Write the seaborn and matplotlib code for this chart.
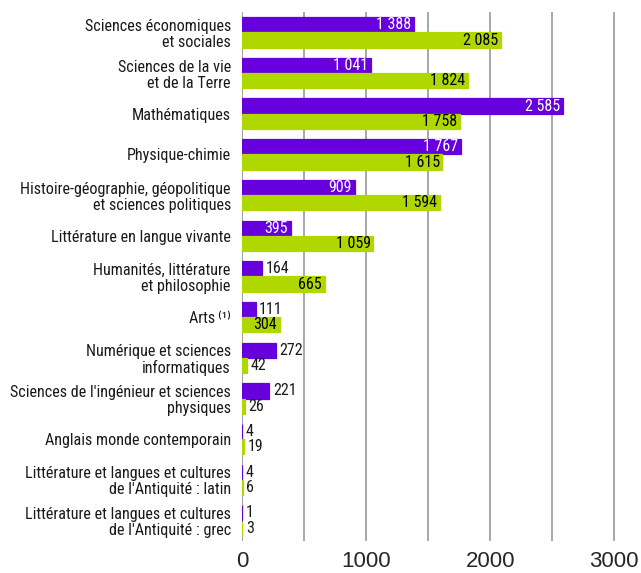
import matplotlib
matplotlib.use("Agg")
import matplotlib.pyplot as plt
import seaborn as sns
import pandas as pd

# Spécialités (de haut en bas)
categories = [
    "Sciences économiques\net sociales",
    "Sciences de la vie\net de la Terre",
    "Mathématiques",
    "Physique-chimie",
    "Histoire-géographie, géopolitique\net sciences politiques",
    "Littérature en langue vivante",
    "Humanités, littérature\net philosophie",
    "Arts\u2009⁽¹⁾",
    "Numérique et sciences\ninformatiques",
    "Sciences de l'ingénieur et sciences\nphysiques",
    "Anglais monde contemporain",
    "Littérature et langues et cultures\nde l'Antiquité : latin",
    "Littérature et langues et cultures\nde l'Antiquité : grec",
]
serie_violet = [1388, 1041, 2585, 1767, 909, 395, 164, 111, 272, 221, 4, 4, 1]
serie_vert = [2085, 1824, 1758, 1615, 1594, 1059, 665, 304, 42, 26, 19, 6, 3]
series = ["serie_violet", "serie_vert"]
colors = ["#6600dd", "#b0d800"]
x_ticks = [0, 1000, 2000, 3000]

df = pd.DataFrame({
    "categorie": categories * 2,
    "serie": [series[0]] * len(categories) + [series[1]] * len(categories),
    "valeur": serie_violet + serie_vert,
})

sns.set_theme(style="white")
plt.rcParams["font.family"] = ["Roboto Condensed", "Archivo Narrow", "PT Sans Narrow", "DejaVu Sans"]

fig = plt.figure(figsize=(6.41, 5.73), dpi=100)
ax = fig.add_axes([0.3775, 0.056, 0.6215, 0.923])

sns.barplot(data=df, y="categorie", x="valeur", hue="serie", hue_order=series,
            palette=colors, orient="h", width=0.75, saturation=1, legend=False,
            ax=ax, zorder=3)
for container, c in zip(ax.containers, colors):
    for bar in container:
        bar.set_edgecolor(c)
        bar.set_linewidth(0.9)

ax.set_xlim(0, 3210)
ax.set_xticks(x_ticks)
ax.set_xticks(range(500, 3001, 1000), minor=True)
ax.set_xticklabels([str(t) for t in x_ticks], fontsize=16,
                   family=["Liberation Sans", "DejaVu Sans"])
ax.grid(axis="x", which="both", color="#a0a0a0", linewidth=1.3, zorder=0)
ax.axvline(0, color="#a0a0a0", linewidth=1.3, zorder=1)
ax.tick_params(axis="both", length=0)
ax.tick_params(axis="x", pad=7)
ax.tick_params(axis="y", pad=8, labelsize=11.6, labelcolor="#1a1a1a")
for lbl in ax.get_yticklabels():
    lbl.set_horizontalalignment("right")
    lbl.set_multialignment("right")
    lbl.set_linespacing(1.08)
ax.set_xlabel("")
ax.set_ylabel("")
sns.despine(ax=ax, left=True, bottom=True)


def fmt(v):
    return f"{v:,}".replace(",", " ")


for container, values, inside_color in zip(ax.containers, [serie_violet, serie_vert], ["white", "black"]):
    for bar, v in zip(container, values):
        y = bar.get_y() + bar.get_height() / 2
        if v >= 300:
            ax.annotate(fmt(v), (v, y), xytext=(-2, 0), textcoords="offset points",
                        ha="right", va="center", color=inside_color, fontsize=11.5, zorder=5)
        else:
            ax.annotate(fmt(v), (v, y), xytext=(2.5, 0), textcoords="offset points",
                        ha="left", va="center", color="#1a1a1a", fontsize=11.5, zorder=5)

fig.savefig("out.png", dpi=100)
plt.close()
